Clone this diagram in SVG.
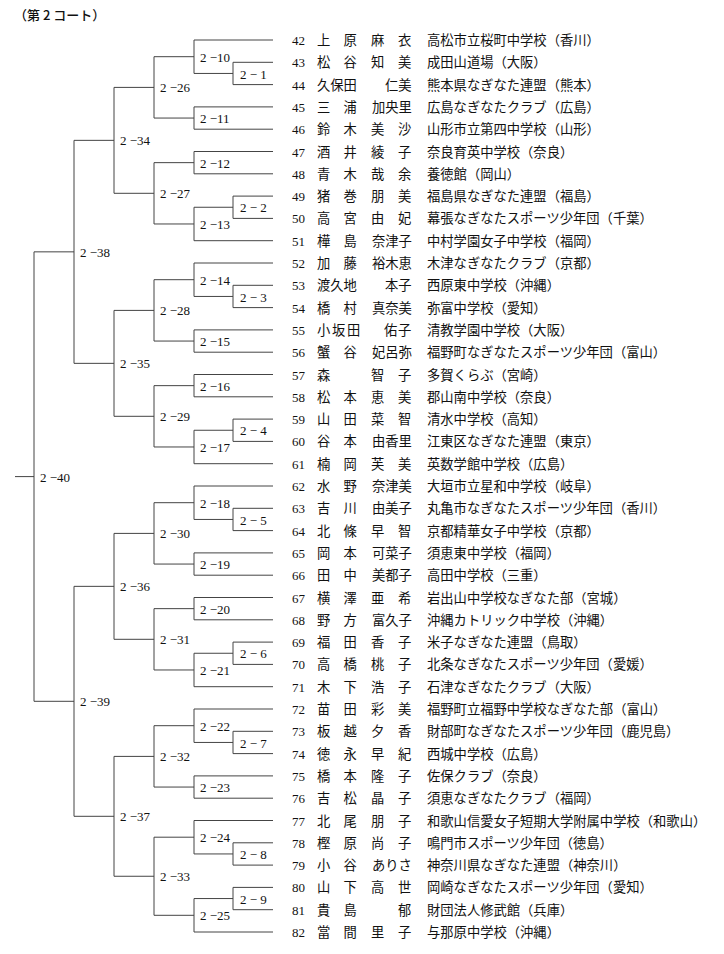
<svg xmlns="http://www.w3.org/2000/svg" width="724" height="954" viewBox="0 0 724 954">
<style>
.ln{stroke:#444;stroke-width:1;fill:none}
.lb{font-family:"Liberation Serif","Noto Sans CJK JP",serif;font-size:13px;fill:#111}
.n{font-family:"Liberation Serif",serif;font-size:13px;fill:#111}
.j{font-family:"Noto Sans CJK JP",sans-serif;font-size:13.3px;fill:#111}
.t{font-family:"Noto Sans CJK JP",sans-serif;font-size:13px;font-weight:500;fill:#111}
</style>
<rect width="724" height="954" fill="#fff"/>
<text class="t" x="14" y="20">（第 2 コート）</text>
<g id="connectors" class="ln">
<path d="M233 62.3V84.6M233 62.3H273M233 84.6H273"/>
<path d="M194 40V73.45M194 40H273M194 73.45H233"/>
<path d="M194 106.9V129.2M194 106.9H273M194 129.2H273"/>
<path d="M154 56.7V118.05M154 56.7H194M154 118.05H194"/>
<path d="M194 151.5V173.8M194 151.5H273M194 173.8H273"/>
<path d="M233 196.1V218.4M233 196.1H273M233 218.4H273"/>
<path d="M194 207.25V240.7M194 207.25H233M194 240.7H273"/>
<path d="M154 162.65V223.98M154 162.65H194M154 223.98H194"/>
<path d="M114 87.4V193.3M114 87.4H154M114 193.3H154"/>
<path d="M233 285.3V307.6M233 285.3H273M233 307.6H273"/>
<path d="M194 263V296.45M194 263H273M194 296.45H233"/>
<path d="M194 329.9V352.2M194 329.9H273M194 352.2H273"/>
<path d="M154 279.7V341.05M154 279.7H194M154 341.05H194"/>
<path d="M194 374.5V396.8M194 374.5H273M194 396.8H273"/>
<path d="M233 419.1V441.4M233 419.1H273M233 441.4H273"/>
<path d="M194 430.25V463.7M194 430.25H233M194 463.7H273"/>
<path d="M154 385.65V446.98M154 385.65H194M154 446.98H194"/>
<path d="M114 310.4V416.3M114 310.4H154M114 416.3H154"/>
<path d="M74 140.35V363.35M74 140.35H114M74 363.35H114"/>
<path d="M233 508.3V530.6M233 508.3H273M233 530.6H273"/>
<path d="M194 486V519.45M194 486H273M194 519.45H233"/>
<path d="M194 552.9V575.2M194 552.9H273M194 575.2H273"/>
<path d="M154 502.7V564.05M154 502.7H194M154 564.05H194"/>
<path d="M194 597.5V619.8M194 597.5H273M194 619.8H273"/>
<path d="M233 642.1V664.4M233 642.1H273M233 664.4H273"/>
<path d="M194 653.25V686.7M194 653.25H233M194 686.7H273"/>
<path d="M154 608.65V669.98M154 608.65H194M154 669.98H194"/>
<path d="M114 533.4V639.3M114 533.4H154M114 639.3H154"/>
<path d="M233 731.3V753.6M233 731.3H273M233 753.6H273"/>
<path d="M194 709V742.45M194 709H273M194 742.45H233"/>
<path d="M194 775.9V798.2M194 775.9H273M194 798.2H273"/>
<path d="M154 725.7V787.05M154 725.7H194M154 787.05H194"/>
<path d="M233 842.8V865.1M233 842.8H273M233 865.1H273"/>
<path d="M194 820.5V853.95M194 820.5H273M194 853.95H233"/>
<path d="M233 887.4V909.7M233 887.4H273M233 909.7H273"/>
<path d="M194 898.55V932M194 898.55H233M194 932H273"/>
<path d="M154 837.2V915.3M154 837.2H194M154 915.3H194"/>
<path d="M114 756.4V876.25M114 756.4H154M114 876.25H154"/>
<path d="M74 586.35V816.3M74 586.35H114M74 816.3H114"/>
<path d="M34 251.85V701.3M34 251.85H74M34 701.3H74M15 476.6H34"/>
</g>
<g id="m2-1"><text class="lb" x="240" y="78.5">2 − 1</text></g>
<g id="m2-10"><text class="lb" x="200" y="61.7">2 −10</text></g>
<g id="m2-11"><text class="lb" x="200" y="123">2 −11</text></g>
<g id="m2-26"><text class="lb" x="160" y="92.4">2 −26</text></g>
<g id="m2-12"><text class="lb" x="200" y="167.6">2 −12</text></g>
<g id="m2-2"><text class="lb" x="240" y="212.2">2 − 2</text></g>
<g id="m2-13"><text class="lb" x="200" y="229">2 −13</text></g>
<g id="m2-27"><text class="lb" x="160" y="198.3">2 −27</text></g>
<g id="m2-34"><text class="lb" x="120" y="145.4">2 −34</text></g>
<g id="m2-3"><text class="lb" x="240" y="301.5">2 − 3</text></g>
<g id="m2-14"><text class="lb" x="200" y="284.7">2 −14</text></g>
<g id="m2-15"><text class="lb" x="200" y="346">2 −15</text></g>
<g id="m2-28"><text class="lb" x="160" y="315.4">2 −28</text></g>
<g id="m2-16"><text class="lb" x="200" y="390.6">2 −16</text></g>
<g id="m2-4"><text class="lb" x="240" y="435.2">2 − 4</text></g>
<g id="m2-17"><text class="lb" x="200" y="452">2 −17</text></g>
<g id="m2-29"><text class="lb" x="160" y="421.3">2 −29</text></g>
<g id="m2-35"><text class="lb" x="120" y="368.4">2 −35</text></g>
<g id="m2-38"><text class="lb" x="80" y="256.9">2 −38</text></g>
<g id="m2-5"><text class="lb" x="240" y="524.5">2 − 5</text></g>
<g id="m2-18"><text class="lb" x="200" y="507.7">2 −18</text></g>
<g id="m2-19"><text class="lb" x="200" y="569">2 −19</text></g>
<g id="m2-30"><text class="lb" x="160" y="538.4">2 −30</text></g>
<g id="m2-20"><text class="lb" x="200" y="613.6">2 −20</text></g>
<g id="m2-6"><text class="lb" x="240" y="658.2">2 − 6</text></g>
<g id="m2-21"><text class="lb" x="200" y="675">2 −21</text></g>
<g id="m2-31"><text class="lb" x="160" y="644.3">2 −31</text></g>
<g id="m2-36"><text class="lb" x="120" y="591.4">2 −36</text></g>
<g id="m2-7"><text class="lb" x="240" y="747.5">2 − 7</text></g>
<g id="m2-22"><text class="lb" x="200" y="730.7">2 −22</text></g>
<g id="m2-23"><text class="lb" x="200" y="792">2 −23</text></g>
<g id="m2-32"><text class="lb" x="160" y="761.4">2 −32</text></g>
<g id="m2-8"><text class="lb" x="240" y="859">2 − 8</text></g>
<g id="m2-24"><text class="lb" x="200" y="842.2">2 −24</text></g>
<g id="m2-9"><text class="lb" x="240" y="903.6">2 − 9</text></g>
<g id="m2-25"><text class="lb" x="200" y="920.3">2 −25</text></g>
<g id="m2-33"><text class="lb" x="160" y="881.3">2 −33</text></g>
<g id="m2-37"><text class="lb" x="120" y="821.3">2 −37</text></g>
<g id="m2-39"><text class="lb" x="80" y="706.3">2 −39</text></g>
<g id="m2-40"><text class="lb" x="40" y="481.6">2 −40</text></g>
<g id="e42" transform="translate(0,45)"><text class="n" x="292">42</text><text class="j" x="317 343.5 371 398">上原麻衣</text><text class="j" x="427">高松市立桜町中学校（香川）</text></g>
<g id="e43" transform="translate(0,67.3)"><text class="n" x="292">43</text><text class="j" x="317 343.5 371 398">松谷知美</text><text class="j" x="427">成田山道場（大阪）</text></g>
<g id="e44" transform="translate(0,89.6)"><text class="n" x="292">44</text><text class="j" x="317 330.3 343.6 385">久保田仁美</text><text class="j" x="427">熊本県なぎなた連盟（熊本）</text></g>
<g id="e45" transform="translate(0,111.9)"><text class="n" x="292">45</text><text class="j" x="317 343.5 372">三浦加央里</text><text class="j" x="427">広島なぎなたクラブ（広島）</text></g>
<g id="e46" transform="translate(0,134.2)"><text class="n" x="292">46</text><text class="j" x="317 343.5 371 398">鈴木美沙</text><text class="j" x="427">山形市立第四中学校（山形）</text></g>
<g id="e47" transform="translate(0,156.5)"><text class="n" x="292">47</text><text class="j" x="317 343.5 371 398">酒井綾子</text><text class="j" x="427">奈良育英中学校（奈良）</text></g>
<g id="e48" transform="translate(0,178.8)"><text class="n" x="292">48</text><text class="j" x="317 343.5 371 398">青木哉余</text><text class="j" x="427">養徳館（岡山）</text></g>
<g id="e49" transform="translate(0,201.1)"><text class="n" x="292">49</text><text class="j" x="317 343.5 371 398">猪巻朋美</text><text class="j" x="427">福島県なぎなた連盟（福島）</text></g>
<g id="e50" transform="translate(0,223.4)"><text class="n" x="292">50</text><text class="j" x="317 343.5 371 398">高宮由妃</text><text class="j" x="427">幕張なぎなたスポーツ少年団（千葉）</text></g>
<g id="e51" transform="translate(0,245.7)"><text class="n" x="292">51</text><text class="j" x="317 343.5 372">樺島奈津子</text><text class="j" x="427">中村学園女子中学校（福岡）</text></g>
<g id="e52" transform="translate(0,268)"><text class="n" x="292">52</text><text class="j" x="317 343.5 372">加藤裕木恵</text><text class="j" x="427">木津なぎなたクラブ（京都）</text></g>
<g id="e53" transform="translate(0,290.3)"><text class="n" x="292">53</text><text class="j" x="317 330.3 343.6 385">渡久地本子</text><text class="j" x="427">西原東中学校（沖縄）</text></g>
<g id="e54" transform="translate(0,312.6)"><text class="n" x="292">54</text><text class="j" x="317 343.5 372">橋村真奈美</text><text class="j" x="427">弥富中学校（愛知）</text></g>
<g id="e55" transform="translate(0,334.9)"><text class="n" x="292">55</text><text class="j" x="317 332 347 384 398">小坂田佑子</text><text class="j" x="427">清教学園中学校（大阪）</text></g>
<g id="e56" transform="translate(0,357.2)"><text class="n" x="292">56</text><text class="j" x="317 343.5 372">蟹谷妃呂弥</text><text class="j" x="427">福野町なぎなたスポーツ少年団（富山）</text></g>
<g id="e57" transform="translate(0,379.5)"><text class="n" x="292">57</text><text class="j" x="317 371 398">森智子</text><text class="j" x="427">多賀くらぶ（宮崎）</text></g>
<g id="e58" transform="translate(0,401.8)"><text class="n" x="292">58</text><text class="j" x="317 343.5 371 398">松本恵美</text><text class="j" x="427">郡山南中学校（奈良）</text></g>
<g id="e59" transform="translate(0,424.1)"><text class="n" x="292">59</text><text class="j" x="317 343.5 371 398">山田菜智</text><text class="j" x="427">清水中学校（高知）</text></g>
<g id="e60" transform="translate(0,446.4)"><text class="n" x="292">60</text><text class="j" x="317 343.5 372">谷本由香里</text><text class="j" x="427">江東区なぎなた連盟（東京）</text></g>
<g id="e61" transform="translate(0,468.7)"><text class="n" x="292">61</text><text class="j" x="317 343.5 371 398">楠岡芙美</text><text class="j" x="427">英数学館中学校（広島）</text></g>
<g id="e62" transform="translate(0,491)"><text class="n" x="292">62</text><text class="j" x="317 343.5 372">水野奈津美</text><text class="j" x="427">大垣市立星和中学校（岐阜）</text></g>
<g id="e63" transform="translate(0,513.3)"><text class="n" x="292">63</text><text class="j" x="317 343.5 372">吉川由美子</text><text class="j" x="427">丸亀市なぎなたスポーツ少年団（香川）</text></g>
<g id="e64" transform="translate(0,535.6)"><text class="n" x="292">64</text><text class="j" x="317 343.5 371 398">北條早智</text><text class="j" x="427">京都精華女子中学校（京都）</text></g>
<g id="e65" transform="translate(0,557.9)"><text class="n" x="292">65</text><text class="j" x="317 343.5 372">岡本可菜子</text><text class="j" x="427">須恵東中学校（福岡）</text></g>
<g id="e66" transform="translate(0,580.2)"><text class="n" x="292">66</text><text class="j" x="317 343.5 372">田中美都子</text><text class="j" x="427">高田中学校（三重）</text></g>
<g id="e67" transform="translate(0,602.5)"><text class="n" x="292">67</text><text class="j" x="317 343.5 371 398">横澤亜希</text><text class="j" x="427">岩出山中学校なぎなた部（宮城）</text></g>
<g id="e68" transform="translate(0,624.8)"><text class="n" x="292">68</text><text class="j" x="317 343.5 372">野方富久子</text><text class="j" x="427">沖縄カトリック中学校（沖縄）</text></g>
<g id="e69" transform="translate(0,647.1)"><text class="n" x="292">69</text><text class="j" x="317 343.5 371 398">福田香子</text><text class="j" x="427">米子なぎなた連盟（鳥取）</text></g>
<g id="e70" transform="translate(0,669.4)"><text class="n" x="292">70</text><text class="j" x="317 343.5 371 398">高橋桃子</text><text class="j" x="427">北条なぎなたスポーツ少年団（愛媛）</text></g>
<g id="e71" transform="translate(0,691.7)"><text class="n" x="292">71</text><text class="j" x="317 343.5 371 398">木下浩子</text><text class="j" x="427">石津なぎなたクラブ（大阪）</text></g>
<g id="e72" transform="translate(0,714)"><text class="n" x="292">72</text><text class="j" x="317 343.5 371 398">苗田彩美</text><text class="j" x="427">福野町立福野中学校なぎなた部（富山）</text></g>
<g id="e73" transform="translate(0,736.3)"><text class="n" x="292">73</text><text class="j" x="317 343.5 371 398">板越夕香</text><text class="j" x="427">財部町なぎなたスポーツ少年団（鹿児島）</text></g>
<g id="e74" transform="translate(0,758.6)"><text class="n" x="292">74</text><text class="j" x="317 343.5 371 398">徳永早紀</text><text class="j" x="427">西城中学校（広島）</text></g>
<g id="e75" transform="translate(0,780.9)"><text class="n" x="292">75</text><text class="j" x="317 343.5 371 398">橋本隆子</text><text class="j" x="427">佐保クラブ（奈良）</text></g>
<g id="e76" transform="translate(0,803.2)"><text class="n" x="292">76</text><text class="j" x="317 343.5 371 398">吉松晶子</text><text class="j" x="427">須恵なぎなたクラブ（福岡）</text></g>
<g id="e77" transform="translate(0,825.5)"><text class="n" x="292">77</text><text class="j" x="317 343.5 371 398">北尾朋子</text><text class="j" x="427">和歌山信愛女子短期大学附属中学校（和歌山）</text></g>
<g id="e78" transform="translate(0,847.8)"><text class="n" x="292">78</text><text class="j" x="317 343.5 371 398">樫原尚子</text><text class="j" x="427">鳴門市スポーツ少年団（徳島）</text></g>
<g id="e79" transform="translate(0,870.1)"><text class="n" x="292">79</text><text class="j" x="317 343.5 372">小谷ありさ</text><text class="j" x="427">神奈川県なぎなた連盟（神奈川）</text></g>
<g id="e80" transform="translate(0,892.4)"><text class="n" x="292">80</text><text class="j" x="317 343.5 371 398">山下高世</text><text class="j" x="427">岡崎なぎなたスポーツ少年団（愛知）</text></g>
<g id="e81" transform="translate(0,914.7)"><text class="n" x="292">81</text><text class="j" x="317 343.5 398">貴島郁</text><text class="j" x="427">財団法人修武館（兵庫）</text></g>
<g id="e82" transform="translate(0,937)"><text class="n" x="292">82</text><text class="j" x="317 343.5 371 398">當間里子</text><text class="j" x="427">与那原中学校（沖縄）</text></g>
</svg>
